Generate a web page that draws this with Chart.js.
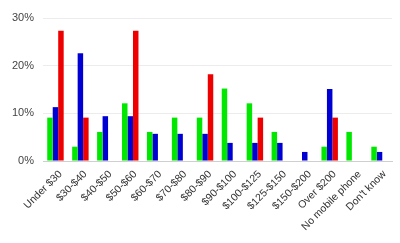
<!DOCTYPE html>
<html>
<head>
<meta charset="utf-8">
<script src="https://cdn.jsdelivr.net/npm/chart.js@4"></script>
<style>
    html, body { margin: 0; padding: 0; background: #fff; }
    #wrap { width: 400px; height: 243px; position: relative; }
</style>
</head>
<body>
<div id="wrap"><canvas id="chart"></canvas></div>
<script>
// Categories (monthly spend)
const categories = ['Under $30', '$30-$40', '$40-$50', '$50-$60', '$60-$70', '$70-$80', '$80-$90',
    '$90-$100', '$100-$125', '$125-$150', '$150-$200', 'Over $200', 'No mobile phone', "Don't know"];

// Series values (percent)
const greenValues = [9.1, 3.0, 6.1, 12.1, 6.1, 9.1, 9.1, 15.2, 12.1, 6.1, 0, 3.0, 6.1, 3.0];
const blueValues = [11.3, 22.6, 9.4, 9.4, 5.7, 5.7, 5.7, 3.8, 3.8, 3.8, 1.9, 15.1, 0, 1.9];
const redValues = [27.3, 9.1, 0, 27.3, 0, 0, 18.2, 0, 9.1, 0, 0, 9.1, 0, 0];

// Y axis ticks
const yTicks = [0, 10, 20, 30];

document.addEventListener('DOMContentLoaded', () => {
    const ctx = document.getElementById('chart').getContext('2d');

    new Chart(ctx, {
        type: 'bar',
        data: {
            labels: categories,
            datasets: [
                { label: 'Green', data: greenValues, backgroundColor: 'rgb(0, 232, 0)' },
                { label: 'Blue', data: blueValues, backgroundColor: 'rgb(0, 0, 210)' },
                { label: 'Red', data: redValues, backgroundColor: 'rgb(238, 0, 0)' }
            ]
        },
        options: {
            responsive: true,
            maintainAspectRatio: false,
            animation: false,
            datasets: {
                bar: {
                    barPercentage: 1.0,
                    categoryPercentage: 0.66
                }
            },
            layout: {
                padding: { top: 18, right: 8, left: 0, bottom: 0 }
            },
            plugins: {
                legend: { display: false },
                tooltip: { enabled: false }
            },
            scales: {
                x: {
                    afterFit: (scale) => { scale.height = 82; },
                    grid: { display: false, drawTicks: false },
                    border: { display: true, color: '#cfcfcf' },
                    ticks: {
                        maxRotation: 45,
                        minRotation: 45,
                        padding: 7,
                        labelOffset: 5,
                        autoSkip: false,
                        color: '#333',
                        font: { family: 'Liberation Sans, Arial, sans-serif', size: 10.5 }
                    }
                },
                y: {
                    min: 0,
                    max: 30,
                    afterFit: (scale) => { scale.width = 43; },
                    afterBuildTicks: (scale) => {
                        scale.ticks = yTicks.map(v => ({ value: v }));
                    },
                    grid: { color: '#ececec', drawTicks: false },
                    border: { display: false },
                    ticks: {
                        padding: 9,
                        color: '#444',
                        font: { family: 'Liberation Sans, Arial, sans-serif', size: 11 },
                        callback: (v) => v + '%'
                    }
                }
            }
        }
    });
});
</script>
</body>
</html>
